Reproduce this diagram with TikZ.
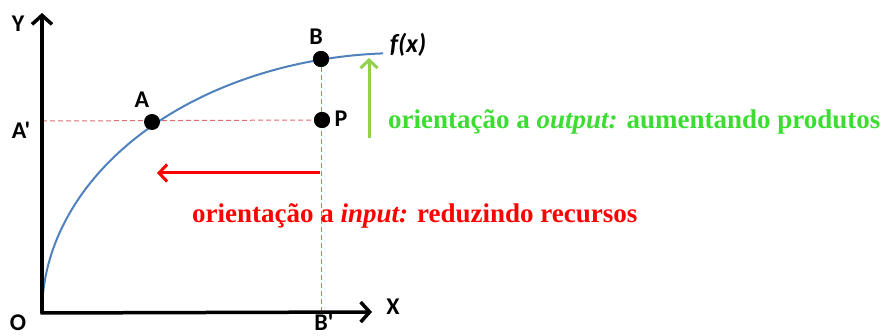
\documentclass[tikz,border=0pt]{standalone}
\usepackage{fontspec}
\setmainfont{Liberation Serif}
\newfontfamily\lblfont{Carlito}
\usetikzlibrary{arrows.meta}
\definecolor{curveblue}{RGB}{79,129,189}
\definecolor{guidered}{RGB}{222,110,110}
\definecolor{arrgreen}{RGB}{146,208,80}
\definecolor{txtgreen}{RGB}{60,220,50}
\definecolor{arrred}{RGB}{255,0,0}
\tikzset{
  axis/.style={line width=3.5pt, -{Straight Barb[length=9pt,width=20pt]}},
  guide/.style={guidered, line width=1pt, dash pattern=on 5pt off 3pt},
  curveline/.style={curveblue, line width=2pt},
  dot/.style={circle, fill=black, inner sep=0pt, minimum size=16pt},
  lbl/.style={font=\lblfont\bfseries\fontsize{24}{24}\selectfont, inner sep=0pt},
  garrow/.style={arrgreen, line width=3pt, -{Straight Barb[length=8pt,width=17pt]}},
  rarrow/.style={arrred, line width=3pt, -{Straight Barb[length=8pt,width=17pt]}},
  bigtext/.style={font=\bfseries\fontsize{27}{27}\selectfont, inner sep=0pt, anchor=base west}
}
\begin{document}
\begin{tikzpicture}[x=1pt,y=-1pt]
\useasboundingbox (0,0) rectangle (886,336);
% key coordinates
\coordinate (O) at (42,313);
\coordinate (Ytip) at (42,13);
\coordinate (Xtip) at (372,312);
\coordinate (Aaxis) at (42,121);
\coordinate (Bfoot) at (321,312);
% guides
\node[dot] (P) at (322,120) {};
\node[dot] (B) at (321,59) {};
\draw[guide] (Aaxis) -- (P.center);
\draw[guide] (B.center) -- (Bfoot);
% curve (quarter ellipse)
\draw[curveline] plot[domain=0:87, samples=120, smooth] ({402-360*cos(\x)}, {313-260*sin(\x)});
\node[dot] (A) at (152,122) {};
\node[dot] at (B) {};
\node[dot] at (P) {};
% axes
\draw[axis] (O) -- (Ytip);
\draw[axis] ([xshift=-1.75pt]O) -- (Xtip);
% labels
\node[lbl] (Ylbl) at (18,24) {Y};
\node[lbl] (Olbl) at (18,323) {O};
\node[lbl] (Xlbl) at (393,307) {X};
\node[lbl] (Aplbl) at (21,130) {A'};
\node[lbl] (Albl) at (142,100) {A};
\node[lbl] (Blbl) at (316,37) {B};
\node[lbl] (Bplbl) at (324,322) {B'};
\node[lbl] (Plbl) at (341,119) {P};
\node[lbl, font=\lblfont\bfseries\itshape\fontsize{26}{26}\selectfont] (flbl) at (408,45) {f(x)};
% orientation arrows
\coordinate (g1) at (369,138);
\coordinate (g2) at (369,58);
\draw[garrow] (g1) -- (g2);
\coordinate (r1) at (320,173);
\coordinate (r2) at (157,173);
\draw[rarrow] (r1) -- (r2);
% texts
\node[bigtext, txtgreen] (gt) at (388,129) {orientação a \textit{output:} aumentando produtos};
\node[bigtext, arrred] (rt) at (192,223) {orientação a \textit{input:} reduzindo recursos};
\end{tikzpicture}
\end{document}
